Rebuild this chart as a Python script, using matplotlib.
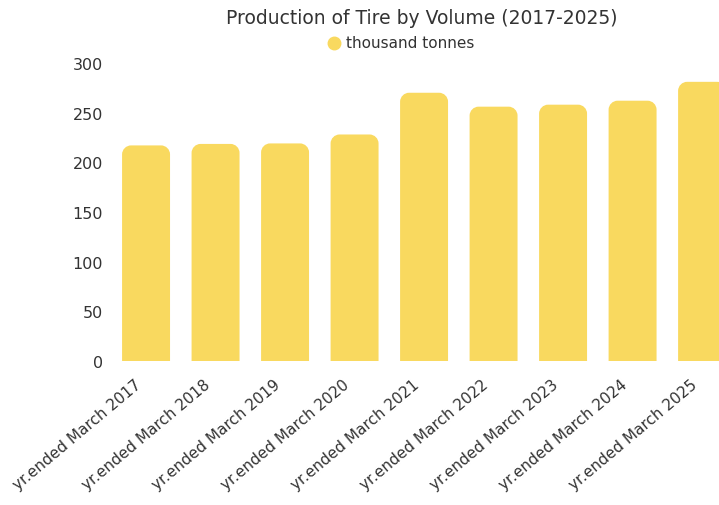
import matplotlib
matplotlib.use("Agg")
import matplotlib.pyplot as plt
from matplotlib.path import Path
from matplotlib.patches import PathPatch
from matplotlib.lines import Line2D
from matplotlib.transforms import ScaledTranslation

years = ["yr.ended March 2017", "yr.ended March 2018", "yr.ended March 2019",
         "yr.ended March 2020", "yr.ended March 2021", "yr.ended March 2022",
         "yr.ended March 2023", "yr.ended March 2024", "yr.ended March 2025"]
volume = [217, 218.5, 219, 228, 270, 256, 258, 262, 281]

bar_color = "#F9D95F"
text_color = "#333333"

fig = plt.figure(figsize=(7.19, 5.06), dpi=100)
ax = fig.add_axes([0.1548, 0.2846, 0.87, 0.589])

x = list(range(len(years)))
bars = ax.bar(x, volume, width=0.69, color=bar_color, linewidth=0)

ax.set_xlim(-0.5, len(years) - 0.5)
ax.set_ylim(0, 300)


def rounded_top(x0, w, h, rx, ry):
    k = 0.5523
    verts = [(x0, 0), (x0, h - ry),
             (x0, h - ry + k * ry), (x0 + rx - k * rx, h), (x0 + rx, h),
             (x0 + w - rx, h),
             (x0 + w - rx + k * rx, h), (x0 + w, h - ry + k * ry), (x0 + w, h - ry),
             (x0 + w, 0), (x0, 0)]
    codes = [Path.MOVETO, Path.LINETO,
             Path.CURVE4, Path.CURVE4, Path.CURVE4,
             Path.LINETO,
             Path.CURVE4, Path.CURVE4, Path.CURVE4,
             Path.LINETO, Path.CLOSEPOLY]
    return Path(verts, codes)


# rounded tops: radius in pixels converted to data units
fig.canvas.draw()
px_x = ax.transData.transform((1, 0))[0] - ax.transData.transform((0, 0))[0]
px_y = ax.transData.transform((0, 1))[1] - ax.transData.transform((0, 0))[1]
r_px = 9
rx = r_px / px_x
ry = r_px / px_y
for b in bars:
    bx, bw, bh = b.get_x(), b.get_width(), b.get_height()
    b.set_visible(False)
    ax.add_patch(PathPatch(rounded_top(bx, bw, bh, rx, ry),
                           facecolor=bar_color, edgecolor="none"))

ax.set_yticks([0, 50, 100, 150, 200, 250, 300])
ax.set_xticks(x)
ax.set_xticklabels(years, rotation=40, ha="right", va="center",
                   rotation_mode="anchor", fontsize=11)
ax.tick_params(axis="both", length=0, colors=text_color)
ax.tick_params(axis="y", pad=6, labelsize=11.5)
ax.tick_params(axis="x", pad=15)
shift = ScaledTranslation(-7 / 100, 0, fig.dpi_scale_trans)
for lab in ax.get_xticklabels():
    lab.set_transform(lab.get_transform() + shift)
for s in ax.spines.values():
    s.set_visible(False)

fig.text(0.587, 0.963, "Production of Tire by Volume (2017-2025)",
         ha="center", va="center", fontsize=13.5, color=text_color)
fig.add_artist(Line2D([334 / 719], [1 - 44 / 506], marker="o", markersize=9,
                      color=bar_color, linestyle="none",
                      transform=fig.transFigure))
fig.text(346 / 719, 1 - 44 / 506, "thousand tonnes", ha="left", va="center",
         fontsize=11, color=text_color)

fig.savefig("out.png", dpi=100)
